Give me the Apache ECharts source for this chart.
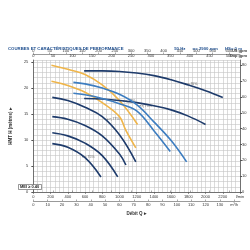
<!DOCTYPE html>
<html><head><meta charset="utf-8">
<script src="https://cdn.jsdelivr.net/npm/echarts@6/dist/echarts.min.js"></script>
<style>html,body{margin:0;padding:0;background:#fff}#c{width:250px;height:250px}</style>
</head><body><div id="c"></div>
<script>
// ---- data (Q in l/min, H in m) ----
const qHF5A = [210, 400, 600, 800, 1000, 1210];
const hHF5A = [24.4, 23.6, 22.6, 20.6, 17.6, 13.0];
const qHF5B = [210, 400, 600, 800, 1000, 1070, 1190];
const hHF5B = [21.3, 20.5, 19.2, 17.2, 14.5, 12.0, 8.5];
const qHF20A = [590, 800, 1000, 1200, 1400, 1600, 1800, 2000, 2200];
const hHF20A = [23.3, 23.3, 23.2, 22.9, 22.4, 21.6, 20.6, 19.5, 18.2];
const qHF20B = [590, 800, 1000, 1200, 1400, 1600, 1800, 2000];
const hHF20B = [18.0, 17.9, 17.6, 17.2, 16.6, 15.8, 14.6, 13.0];
const qHF20AN = [465, 600, 800, 1000, 1200, 1400, 1600, 1780];
const hHF20AN = [21.1, 20.8, 20.0, 18.8, 16.8, 13.5, 9.9, 5.8];
const qHF20BN = [465, 600, 800, 1000, 1200, 1400, 1590];
const hHF20BN = [19.0, 18.7, 18.0, 17.0, 15.6, 11.8, 7.8];
const qHF6A = [220, 400, 600, 800, 1000, 1190];
const hHF6A = [18.2, 17.6, 16.3, 14.5, 11.0, 5.8];
const qHF6B = [220, 400, 600, 800, 1000, 1075];
const hHF6B = [14.5, 14.0, 12.8, 10.8, 7.3, 5.2];
const qHF6C = [220, 400, 600, 800, 980];
const hHF6C = [11.4, 10.8, 9.4, 7.0, 2.9];
const qHF4 = [220, 400, 600, 785];
const hHF4 = [9.3, 8.6, 6.6, 2.9];
// efficiency marks
const effQ = [1770, 1050, 1240, 865, 575];
const effH = [20.8, 17.5, 16.6, 14.0, 6.8];
const effText = ['η 76%', 'η 77%', 'η 75%', 'η 77%', 'η 75%'];

const NAVY = '#1e3b6b', BLUE = '#3d7dc0', ORANGE = '#efb54a';
const curves = [
  ['HF5A', qHF5A, hHF5A, ORANGE],
  ['HF5B', qHF5B, hHF5B, ORANGE],
  ['HF20A', qHF20A, hHF20A, NAVY],
  ['HF20B', qHF20B, hHF20B, NAVY],
  ['HF20A-N', qHF20AN, hHF20AN, BLUE],
  ['HF20B-N', qHF20BN, hHF20BN, BLUE],
  ['HF6A', qHF6A, hHF6A, NAVY],
  ['HF6B', qHF6B, hHF6B, NAVY],
  ['HF6C', qHF6C, hHF6C, NAVY],
  ['HF4', qHF4, hHF4, NAVY]
];
const QMAX = 2400, HMAX = 25.4;
const FONT = 'Liberation Sans';
const series = curves.map(([name, q, h, col]) => ({
  type: 'line', name, smooth: 0.4, symbol: 'none', showSymbol: false,
  xAxisIndex: 0, yAxisIndex: 0,
  lineStyle: {color: col, width: 1.6},
  data: q.map((v, i) => i === 0 ? {value: [v, h[i]], symbol: 'none',
    label: {show: true, position: 'left', distance: 2, formatter: name, fontSize: 4, fontWeight: 'bold', color: '#333', fontFamily: FONT}} : [v, h[i]])
}));
series.push({
  type: 'scatter', xAxisIndex: 0, yAxisIndex: 0, symbolSize: 1.5,
  itemStyle: {color: '#555'},
  data: effQ.map((v, i) => ({value: [v, effH[i]], label: {show: true, position: 'right', distance: 1, formatter: effText[i], fontSize: 3.5, color: '#444', fontFamily: FONT}}))
});
const tiny = {fontSize: 4, color: '#333', fontFamily: FONT};
const gridLine = {show: true, lineStyle: {color: '#c4c4c4', width: 0.6}};
const chart = echarts.init(document.getElementById('c'), null, {renderer: 'canvas'});
chart.setOption({
  animation: false,
  title: [
    {text: 'COURBES ET CARACTÉRISTIQUES DE PERFORMANCE', left: 3, top: 42, textStyle: {fontSize: 4.3, fontWeight: 'bold', color: '#1f4f8f', fontFamily: FONT}},
    {text: '50 Hz      n= 2900 rpm      HS= 0 m', right: 3, top: 42, textStyle: {fontSize: 4.3, fontWeight: 'bold', color: '#1f4f8f', fontFamily: FONT}},
    {text: 'US gpm', right: 3, top: 49, padding: 0, textStyle: tiny},
    {text: 'Imp gpm', right: 3, top: 54, padding: 0, textStyle: tiny},
    {text: 'MEI ≥ 0.40', left: 18, top: 184, padding: [1, 2], borderColor: '#333', borderWidth: 0.5, backgroundColor: '#fff', textStyle: {fontSize: 4, fontWeight: 'bold', color: '#222', fontFamily: FONT}}
  ],
  grid: {left: 16.5, right: 10, top: 60, bottom: 58},
  xAxis: [
    {type: 'value', position: 'bottom', min: 0, max: QMAX, interval: 200,
      axisLine: {show: true, onZero: false, lineStyle: {color: '#555', width: 0.8}},
      axisTick: {show: true, length: 2, lineStyle: {color: '#555', width: 0.6}},
      axisLabel: Object.assign({margin: 3, formatter: v => v >= 2400 ? 'l/min' : String(v)}, tiny),
      splitLine: gridLine, minorTick: {show: false, splitNumber: 4}, minorSplitLine: gridLine,
      name: 'Débit Q ▸', nameLocation: 'middle', nameGap: 19, nameTextStyle: {fontSize: 4.5, fontWeight: 'bold', color: '#333', fontFamily: FONT}},
    {type: 'value', position: 'bottom', offset: 9, min: 0, max: QMAX / 16.6667, interval: 10,
      axisLine: {show: true, onZero: false, lineStyle: {color: '#555', width: 0.6}},
      axisTick: {show: true, length: 1.5, inside: true, lineStyle: {color: '#555', width: 0.5}},
      axisLabel: Object.assign({margin: 1.5, formatter: v => v >= 140 ? 'm³/h' : String(v), showMaxLabel: false}, tiny),
      splitLine: {show: false}},
    {type: 'value', position: 'top', offset: 6, min: 0, max: QMAX / 3.785, interval: 50,
      axisLine: {show: true, onZero: false, lineStyle: {color: '#555', width: 0.6}},
      axisTick: {show: true, length: 1.5, lineStyle: {color: '#555', width: 0.5}},
      axisLabel: Object.assign({margin: 1, showMaxLabel: false}, tiny),
      splitLine: {show: false}},
    {type: 'value', position: 'top', offset: 1, min: 0, max: QMAX / 4.546, interval: 50,
      axisLine: {show: false}, axisTick: {show: true, length: 1.5, lineStyle: {color: '#555', width: 0.5}},
      axisLabel: Object.assign({margin: 1, showMaxLabel: false}, tiny),
      splitLine: {show: false}}
  ],
  yAxis: [
    {type: 'value', min: 0, max: HMAX, interval: 5,
      axisLine: {show: true, onZero: false, lineStyle: {color: '#555', width: 0.8}},
      axisTick: {show: true, length: 2},
      axisLabel: Object.assign({margin: 5, showMaxLabel: false}, tiny),
      splitLine: gridLine, minorTick: {show: false, splitNumber: 5}, minorSplitLine: gridLine,
      name: 'HMT H (mètres) ▸', nameLocation: 'middle', nameGap: 11, nameRotate: 90, nameTextStyle: {fontSize: 4.5, fontWeight: 'bold', color: '#333', fontFamily: FONT}},
    {type: 'value', position: 'right', min: 0, max: HMAX / 0.3048, interval: 10,
      axisLine: {show: true, onZero: false, lineStyle: {color: '#555', width: 0.8}},
      axisTick: {show: true, length: 2},
      axisLabel: Object.assign({margin: 2, showMaxLabel: false}, tiny),
      splitLine: {show: false}}
  ],
  series
});
</script></body></html>
